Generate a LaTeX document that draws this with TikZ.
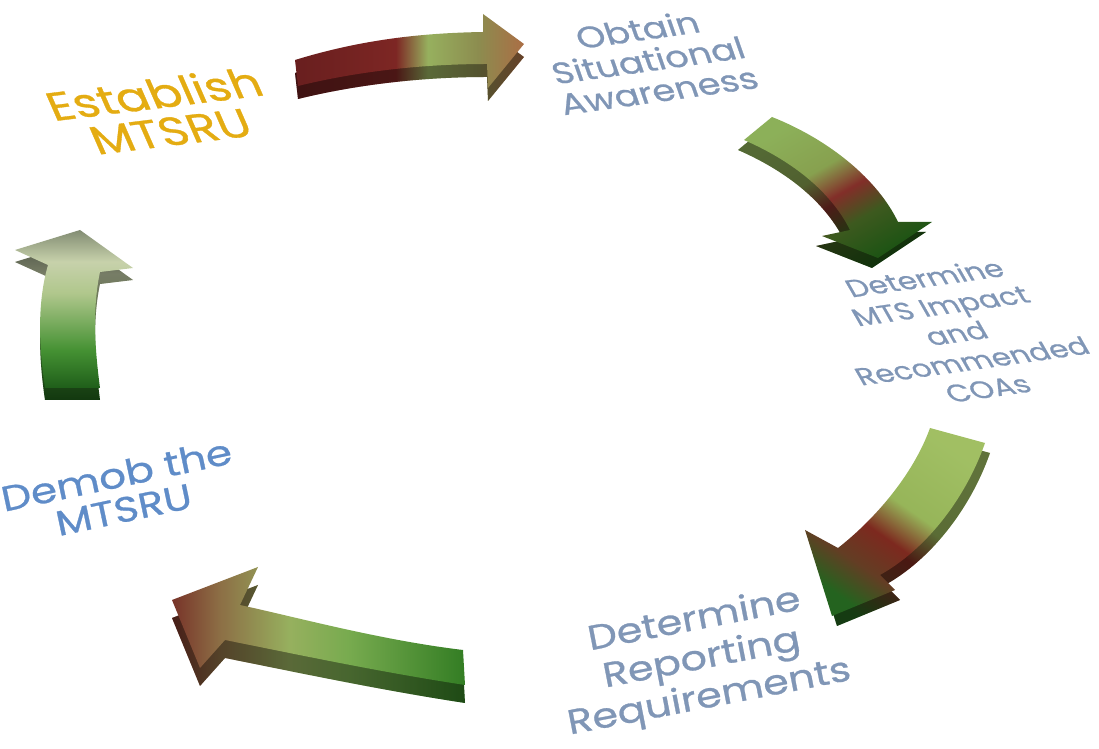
\documentclass[tikz,border=0pt]{standalone}
\usepackage{fontspec}
\usepackage{xcolor}
\setmainfont{Poppins}[FakeStretch=1.2,FakeBold=0.8]

\definecolor{estgold}{RGB}{228,172,18}
\definecolor{stepgray}{RGB}{128,150,182}
\definecolor{demobblue}{RGB}{95,140,200}

% shadings run from the tail of each arrow to its head
\pgfdeclarehorizontalshading{arrone}{100bp}{rgb(0bp)=(.41,.12,.12); rgb(25bp)=(.41,.12,.12); rgb(47bp)=(.49,.15,.14); rgb(54bp)=(.59,.69,.37); rgb(65bp)=(.55,.55,.31); rgb(75bp)=(.67,.43,.27); rgb(100bp)=(.67,.43,.27)}
\pgfdeclarehorizontalshading{arrtwo}{100bp}{rgb(0bp)=(.55,.69,.35); rgb(25bp)=(.55,.69,.35); rgb(42bp)=(.53,.63,.31); rgb(52bp)=(.51,.18,.16); rgb(62bp)=(.24,.35,.12); rgb(75bp)=(.12,.33,.08); rgb(100bp)=(.12,.33,.08)}
\pgfdeclarehorizontalshading{arrthree}{100bp}{rgb(0bp)=(.63,.75,.39); rgb(25bp)=(.63,.75,.39); rgb(45bp)=(.59,.71,.35); rgb(55bp)=(.49,.16,.12); rgb(65bp)=(.39,.24,.14); rgb(75bp)=(.14,.39,.12); rgb(100bp)=(.14,.39,.12)}
\pgfdeclarehorizontalshading{arrfour}{100bp}{rgb(0bp)=(.2,.49,.14); rgb(25bp)=(.2,.49,.14); rgb(45bp)=(.47,.67,.31); rgb(55bp)=(.59,.69,.37); rgb(67bp)=(.55,.43,.27); rgb(75bp)=(.47,.2,.16); rgb(100bp)=(.47,.2,.16)}
\pgfdeclarehorizontalshading{arrfive}{100bp}{rgb(0bp)=(.12,.37,.1); rgb(25bp)=(.12,.37,.1); rgb(37bp)=(.27,.57,.2); rgb(55bp)=(.69,.78,.55); rgb(65bp)=(.78,.82,.67); rgb(75bp)=(.51,.55,.45); rgb(100bp)=(.51,.55,.45)}

\begin{document}
\begin{tikzpicture}[x=0.01cm,y=-0.01cm,
  sideface/.style={postaction={fill=black,fill opacity=.4}},
  steptext/.style={align=center,text=stepgray,inner sep=0pt}]
\useasboundingbox (0,0) rectangle (1099,749);

% the five cycle arrows, top face and extruded side
\def\arrowone{(295,60) .. controls (360,40) and (420,33) .. (483,32) -- (483,14) -- (524,44) -- (488,88) -- (487,64) .. controls (420,64) and (355,72) .. (298,86) -- cycle}
\def\arrowtwo{(744,140) -- (772,117) .. controls (830,140) and (878,180) .. (898,222) -- (932,222) -- (878,258) -- (822,236) -- (850,230) .. controls (830,190) and (790,160) .. (744,140) -- cycle}
\def\arrowthree{(930,428) -- (985,443) .. controls (965,500) and (925,550) .. (880,575) -- (895,590) -- (832,616) -- (805,530) -- (838,548) .. controls (880,515) and (915,470) .. (930,428) -- cycle}
\def\arrowfour{(463,650) .. controls (380,640) and (300,618) .. (240,605) -- (258,567) -- (172,600) -- (200,668) -- (225,640) .. controls (300,655) and (380,672) .. (465,685) -- cycle}
\def\arrowfive{(45,388) .. controls (38,340) and (38,300) .. (48,265) -- (15,250) -- (80,230) -- (133,268) -- (100,272) .. controls (92,310) and (95,350) .. (100,388) -- cycle}

\shade[shading=arrone,shading angle=0,sideface,shift={(0,13)}] \arrowone;
\shade[shading=arrone,shading angle=0] \arrowone;
\shade[shading=arrtwo,shading angle=-60,sideface,shift={(-6,10)}] \arrowtwo;
\shade[shading=arrtwo,shading angle=-60] \arrowtwo;
\shade[shading=arrthree,shading angle=235,sideface,shift={(5,10)}] \arrowthree;
\shade[shading=arrthree,shading angle=235] \arrowthree;
\shade[shading=arrfour,shading angle=180,sideface,shift={(0,18)}] \arrowfour;
\shade[shading=arrfour,shading angle=180] \arrowfour;
\shade[shading=arrfive,shading angle=90,sideface,shift={(0,12)}] \arrowfive;
\shade[shading=arrfive,shading angle=90] \arrowfive;

% step labels
\node[align=center, inner sep=0pt, text=estgold, font=\fontsize{11.5}{11}\selectfont, rotate=7, xslant=-0.3] (establish) at (162,112) {Establish\\MTSRU};
\node[steptext, font=\fontsize{8.6}{9}\selectfont, rotate=8, xslant=-0.2] (obtain) at (648,60) {Obtain\\Situational\\Awareness};
\node[steptext, font=\fontsize{7.1}{8.4}\selectfont, rotate=8, xslant=-0.4] (impact) at (956,333) {Determine\\MTS Impact\\and\\Recommended\\COAs};
\node[steptext, font=\fontsize{9.8}{11.2}\selectfont, rotate=11] (reporting) at (702,660) {Determine\\Reporting\\Requirements};
\node[align=center, inner sep=0pt, text=demobblue, font=\fontsize{10}{10}\selectfont, rotate=12] (demob) at (120,492) {Demob the\\MTSRU};
\end{tikzpicture}
\end{document}
